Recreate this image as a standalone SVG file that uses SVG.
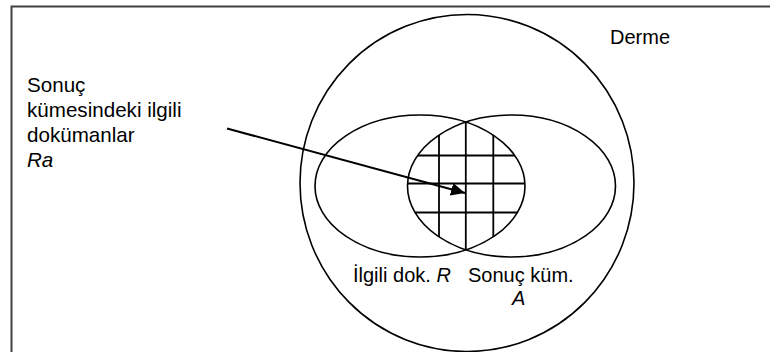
<svg xmlns="http://www.w3.org/2000/svg" width="770" height="352" viewBox="0 0 770 352">
<style>
.ln{fill:none;stroke:#000;stroke-width:1.6}
.gr{stroke:#000;stroke-width:1.8}
.t{font-family:"Liberation Sans",Arial,sans-serif;font-size:20px;fill:#000}
.big{font-size:20.6px}
.i{font-style:italic}
</style>
<defs>
<clipPath id="cl"><ellipse cx="420" cy="186" rx="105" ry="71"/></clipPath>
<clipPath id="cr"><ellipse cx="511.5" cy="186" rx="104" ry="71"/></clipPath>
<marker id="ah" markerUnits="userSpaceOnUse" markerWidth="16" markerHeight="14" refX="14" refY="6.5" orient="auto" viewBox="0 0 16 14">
<path d="M0,0 L14,6.5 L0,13 Z" fill="#000"/>
</marker>
</defs>
<rect x="11.5" y="6.5" width="800" height="400" fill="none" stroke="#404040" stroke-width="2"/>
<g id="derme">
<ellipse class="ln" cx="467" cy="183" rx="167" ry="168.5"/>
<text class="t" x="610" y="44">Derme</text>
</g>
<g id="intersection">
<g clip-path="url(#cl)"><g clip-path="url(#cr)">
<line class="gr" x1="439" y1="100" x2="439" y2="270"/>
<line class="gr" x1="465.8" y1="100" x2="465.8" y2="270"/>
<line class="gr" x1="493.3" y1="100" x2="493.3" y2="270"/>
<line class="gr" x1="400" y1="155.5" x2="530" y2="155.5"/>
<line class="gr" x1="400" y1="183.5" x2="530" y2="183.5"/>
<line class="gr" x1="400" y1="212.5" x2="530" y2="212.5"/>
</g></g>
</g>
<g id="relevant">
<ellipse class="ln" cx="420" cy="186" rx="105" ry="71"/>
<text class="t" x="353" y="282">İlgili dok. <tspan class="i">R</tspan></text>
</g>
<g id="answer">
<ellipse class="ln" cx="511.5" cy="186" rx="104" ry="71"/>
<text class="t" x="468" y="282">Sonuç küm.</text>
<text class="t i" x="512" y="305">A</text>
</g>
<g id="label">
<text class="t big" x="27" y="92">Sonuç</text>
<text class="t big" x="27" y="117">kümesindeki ilgili</text>
<text class="t big" x="27" y="142">dokümanlar</text>
<text class="t big i" x="27" y="167">Ra</text>
</g>
<g id="connectors">
<line x1="227" y1="128.5" x2="465" y2="193" stroke="#000" stroke-width="2" marker-end="url(#ah)"/>
</g>
</svg>
